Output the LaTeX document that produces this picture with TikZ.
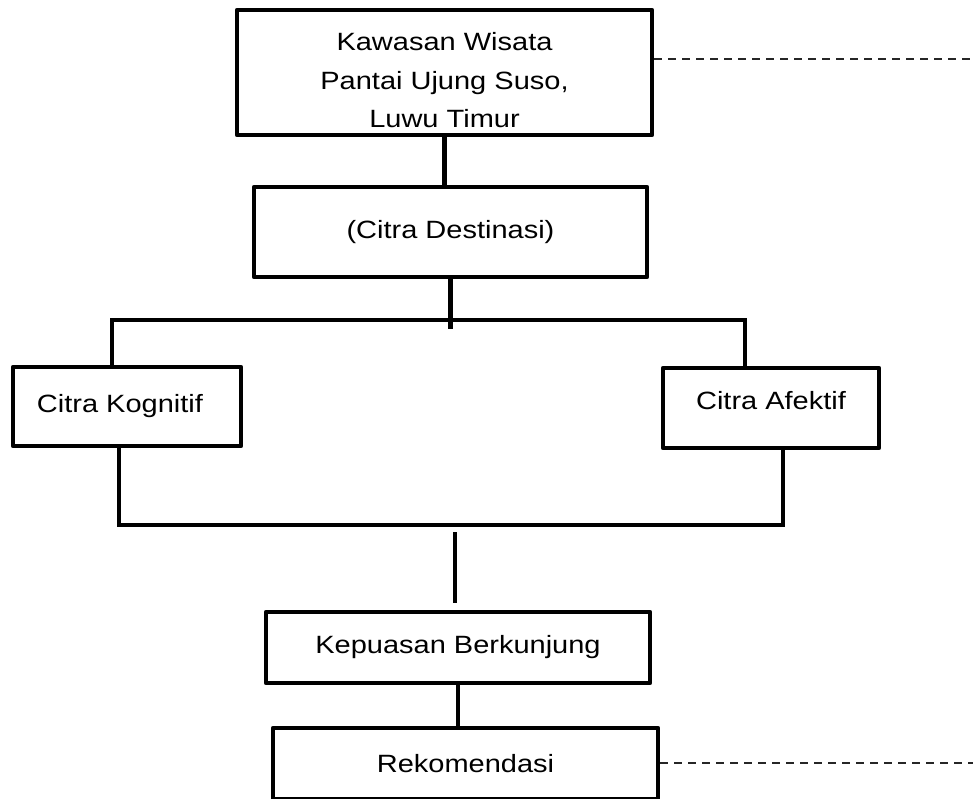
\documentclass[tikz,border=0pt]{standalone}
\usepackage{fontspec}
\setmainfont[FakeStretch=1.16]{Liberation Sans}
\begin{document}
\begin{tikzpicture}[x=1pt, y=-1pt, line width=4.5pt]
    \tikzstyle{box}=[rectangle, draw=black, fill=white, line join=round, inner sep=0pt, align=center, font=\fontsize{25}{38.5}\selectfont]
    \tikzstyle{guide}=[line width=1.6pt, dash pattern=on 8pt off 6pt, black!85]

    \useasboundingbox (0,0) rectangle (973,798);

    \foreach \name/\x/\y/\w/\h/\txt in {kawasan/444.5/72.5/415/125/{\rule{0pt}{34pt}Kawasan Wisata\\Pantai Ujung Suso,\\Luwu Timur}, citra/450.5/232/393/90/{(Citra Destinasi)}, kognitif/127/406.5/228/79/{Citra Kognitif\rule{14pt}{0pt}}, afektif/771/408/216/80/{Citra Afektif\rule[-16pt]{0pt}{16pt}}, kepuasan/458/647.5/384/71/{Kepuasan Berkunjung}, rekomendasi/465.5/763.5/385/71/{Rekomendasi}}
    \node[box, minimum width=\w pt, minimum height=\h pt] (\name) at (\x,\y) {\txt};

    \coordinate (splitL) at (112,320);
    \coordinate (splitR) at (745,320);
    \coordinate (joinL) at (119,525);
    \coordinate (joinR) at (783,525);
    \coordinate (mergeT) at (455,532);
    \coordinate (mergeB) at (455,603);
    \coordinate (noteA) at (973,59);
    \coordinate (noteB) at (973,763);

    \draw (kawasan.south) -- (kawasan.south |- citra.north);
    \draw (citra.south) -- ++(0,50);
    \draw (splitL |- kognitif.north) -- (splitL) -- (splitR) -- (splitR |- afektif.north);
    \draw (joinL |- kognitif.south) -- (joinL) -- (joinR) -- (joinR |- afektif.south);
    \draw (mergeT) -- (mergeB);
    \draw (kepuasan.south) -- (kepuasan.south |- rekomendasi.north);

    \draw[guide] (kawasan.east |- noteA) -- (noteA);
    \draw[guide] (rekomendasi.east |- noteB) -- (noteB);
\end{tikzpicture}
\end{document}
